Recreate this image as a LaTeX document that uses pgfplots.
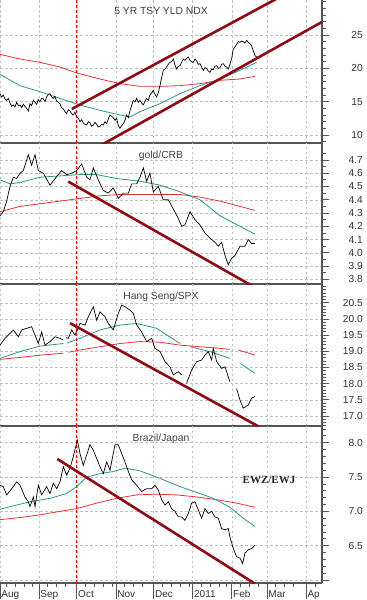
\documentclass[border=0pt]{standalone}
\usepackage{fontspec}
\setmainfont{Liberation Sans}
\newfontfamily\serifb{Liberation Serif}
\usepackage{pgfplots}
\pgfplotsset{compat=1.18}
\usepackage{pgfplotstable}

\definecolor{trend}{RGB}{140,12,20}
\definecolor{tealma}{RGB}{45,150,135}
\definecolor{redma}{RGB}{232,50,55}
\definecolor{axgray}{RGB}{85,85,85}

\pgfplotsset{
 panel/.style={
  scale only axis, width=322bp,
  xmin=0, xmax=255.6,
  axis x line*=bottom, axis y line*=right,
  axis line style={axgray, line width=1.2bp},
  xtick={0,31,61,92,122,153,184,212,243},
  xticklabels={},
  xtick style={draw=none},
  grid=major,
  major grid style={black!25, dash pattern=on 2.5bp off 2.5bp, line width=0.5bp},
  ytick pos=right, yticklabel pos=right,
  tick align=outside,
  ytick style={draw=axgray, line width=0.8bp},
  major tick length=7bp, minor tick length=3.5bp,
  yticklabel style={anchor=east, inner xsep=0pt, xshift=34bp, font=\fontsize{10.2bp}{12bp}\selectfont, text=black!80},
  /pgf/number format/assume math mode=true,
  extra x ticks={61}, extra x tick labels={},
  extra x tick style={grid=major, major grid style={red, dash pattern=on 3bp off 2bp, line width=0.8bp}, xtick style={draw=none}},
  title style={at={(0.5,1)}, anchor=north, yshift=-10bp, font=\fontsize{10.3bp}{12bp}\selectfont, text=black!75},
  unbounded coords=jump,
  clip=true,
 },
 price/.style={black, line width=0.7bp, no marks},
 mateal/.style={tealma, line width=0.8bp, no marks},
 mared/.style={redma, line width=0.8bp, no marks},
 trendl/.style={trend, line width=2.6bp, no marks},
}

\begin{document}
\begin{tikzpicture}
\path[use as bounding box] (0bp,0bp) rectangle (367bp,-600bp);

% ---------------- Panel 1 ----------------
\begin{axis}[panel, at={(0bp,0bp)}, anchor=north west, height=143bp,
  ymin=8.8, ymax=30.25, title={5 YR TSY YLD NDX},
  ytick={10,15,20,25}, yticklabels={10,15,20,25},
  minor ytick={9,11,12,13,14,16,17,18,19,21,22,23,24,26,27,28,29,30}]
\addplot[mared] table {
0 22.1
15.9 21.4
31.7 20.9
47.6 20.2
60.8 19.3
79.4 18.4
95.2 17.7
111.1 17.3
127.0 17.3
142.9 17.4
158.7 17.7
174.6 18.2
190.5 18.4
202.4 18.8
};
\addplot[mateal] table {
0 19.1
15.9 17.4
31.7 16.5
47.6 15.5
63.5 14.5
79.4 13.7
95.2 13.0
103.2 12.7
111.1 13.5
127.0 14.7
142.9 16.2
158.7 17.4
174.6 18.4
190.5 19.7
203.7 20.9
};
\addplot[price] table {
0 16.2
1.3 15.7
2.6 16.0
4.0 15.4
5.3 15.2
6.6 15.5
7.9 14.8
9.3 14.3
10.6 14.5
11.9 14.2
13.2 14.9
14.6 14.4
15.9 14.5
17.2 14.1
18.5 14.6
19.8 14.3
21.2 14.0
22.5 13.6
23.8 14.7
25.1 14.4
26.5 15.2
27.8 14.9
29.1 14.6
30.4 15.3
31.7 15.0
33.1 15.5
34.4 15.4
35.7 15.0
37.0 15.7
38.4 16.1
39.7 16.2
41.0 15.7
42.3 15.5
43.6 15.8
44.9 15.1
46.3 14.9
47.6 14.7
48.9 14.1
50.3 13.9
51.6 13.5
52.9 13.2
54.2 13.8
55.6 13.6
56.9 13.2
58.2 13.0
59.5 13.4
60.8 12.8
62.2 12.5
63.5 12.0
64.8 12.3
66.1 11.8
67.4 11.6
68.8 11.5
70.1 12.0
71.4 11.8
72.8 11.3
74.1 11.5
75.4 11.9
76.7 11.6
78.0 11.2
79.4 11.3
80.7 11.6
82.0 11.5
83.3 12.0
84.7 11.7
86.0 12.4
87.3 13.0
88.6 12.8
89.9 12.6
91.3 12.2
92.6 12.5
93.9 11.4
95.2 11.0
96.6 11.4
97.9 11.7
99.2 12.2
100.5 13.0
101.9 12.6
103.2 13.7
104.5 14.4
105.8 15.2
107.2 15.0
108.5 15.5
109.8 14.9
111.1 15.2
112.4 14.8
113.8 14.5
115.1 15.1
116.4 15.5
117.7 15.2
119.0 16.0
120.4 16.3
121.7 16.7
123.0 16.1
124.3 15.7
125.7 16.4
127.0 17.4
128.3 18.6
129.6 19.7
131.0 19.9
132.3 20.2
133.6 20.6
134.9 20.9
136.2 21.0
137.6 21.4
138.9 20.5
140.2 19.9
141.5 20.3
142.9 20.4
144.2 20.9
145.5 21.4
146.8 21.2
148.2 21.5
149.5 21.7
150.8 21.2
152.1 21.0
153.4 20.9
154.8 21.4
156.1 21.1
157.4 20.6
158.7 20.7
160.1 20.2
161.4 19.7
162.7 20.1
164.0 20.0
165.3 19.6
166.7 19.4
168.0 19.9
169.3 19.8
170.6 20.3
172.0 20.4
173.3 20.0
174.6 20.1
175.9 20.6
177.2 20.7
178.6 20.3
179.9 20.2
181.2 19.9
182.5 20.6
183.9 21.5
185.2 22.9
186.5 23.2
187.8 23.6
189.2 24.0
190.5 23.9
191.8 24.1
193.1 24.0
194.4 23.8
195.8 24.2
197.1 23.9
198.4 23.7
199.7 23.4
201.1 22.6
202.4 21.9
203.7 21.7
};
\addplot[trendl] coordinates {(57,13.9) (230,31.5)};
\addplot[trendl] coordinates {(80,8.45) (256,27.0)};
\end{axis}

% ---------------- Panel 2 ----------------
\begin{axis}[panel, at={(0bp,-143bp)}, anchor=north west, height=141bp,
  ymin=3.765, ymax=4.828, title={gold/CRB},
  ytick={3.8,3.9,4.0,4.1,4.2,4.3,4.4,4.5,4.6,4.7},
  yticklabels={3.8,3.9,4.0,4.1,4.2,4.3,4.4,4.5,4.6,4.7},
  minor ytick={3.85,3.95,4.05,4.15,4.25,4.35,4.45,4.55,4.65,4.75}]
\addplot[mared] table {
0 4.31
15.9 4.35
31.7 4.37
47.6 4.39
63.5 4.41
79.4 4.43
95.2 4.44
111.1 4.44
127.0 4.44
142.9 4.44
158.7 4.42
174.6 4.39
190.5 4.35
202.4 4.32
};
\addplot[mateal] table {
0 4.55
7.9 4.52
15.9 4.53
31.7 4.57
47.6 4.58
63.5 4.59
76.7 4.59
92.6 4.56
111.1 4.54
127.0 4.51
142.9 4.46
158.7 4.40
174.6 4.28
190.5 4.20
202.4 4.14
};
\addplot[price] table {
0 4.28
2.6 4.31
5.3 4.39
7.9 4.50
10.6 4.57
13.2 4.56
15.9 4.60
18.5 4.62
22.5 4.74
25.1 4.66
27.8 4.74
30.4 4.62
34.4 4.60
39.7 4.51
43.7 4.56
48.9 4.62
52.9 4.59
56.9 4.60
60.8 4.62
64.8 4.67
68.8 4.57
71.4 4.55
74.1 4.64
78.0 4.55
82.0 4.47
86.0 4.45
89.9 4.49
93.9 4.41
97.9 4.45
101.9 4.45
104.5 4.52
108.5 4.52
111.1 4.57
113.8 4.64
116.4 4.54
119.0 4.60
121.7 4.46
125.7 4.50
129.6 4.40
133.6 4.40
137.6 4.33
141.5 4.26
144.2 4.20
146.8 4.21
150.8 4.31
154.8 4.25
158.7 4.21
162.7 4.15
166.7 4.11
170.6 4.08
173.3 4.05
175.9 4.08
178.6 3.98
181.2 3.91
183.9 3.96
186.5 3.98
190.5 4.05
194.4 4.05
197.1 4.10
199.7 4.07
202.4 4.07
};
\addplot[trendl] coordinates {(54.2,4.537) (200,3.752)};
\end{axis}

% ---------------- Panel 3 ----------------
\begin{axis}[panel, at={(0bp,-284bp)}, anchor=north west, height=142bp,
  ymin=16.69, ymax=21.08, title={Hang Seng/SPX},
  ytick={17.0,17.5,18.0,18.5,19.0,19.5,20.0,20.5},
  yticklabels={17.0,17.5,18.0,18.5,19.0,19.5,20.0,20.5},
  minor ytick={16.7,16.8,16.9,17.1,17.2,17.3,17.4,17.6,17.7,17.8,17.9,18.1,18.2,18.3,18.4,18.6,18.7,18.8,18.9,19.1,19.2,19.3,19.4,19.6,19.7,19.8,19.9,20.1,20.2,20.3,20.4,20.6,20.7,20.8,20.9,21.0}]
\addplot[mared] table {
0 18.75
15.9 18.81
31.7 18.88
50.3 18.94
51.5 nan
54.2 18.97
63.5 19.04
79.4 19.14
95.2 19.24
111.1 19.30
127.0 19.28
142.9 19.19
158.7 19.14
174.6 19.09
182.5 19.06
185.0 nan
189.2 19.04
202.4 18.88
};
\addplot[mateal] table {
0 18.78
15.9 18.99
31.7 19.16
50.3 19.24
51.5 nan
52.9 19.25
63.5 19.40
79.4 19.66
95.2 19.81
108.5 19.86
124.3 19.71
142.9 19.24
146.0 nan
150.8 19.14
166.7 18.99
182.5 18.78
185.0 nan
190.5 18.63
202.4 18.32
};
\addplot[price] table {
0 19.19
4.0 19.40
7.9 19.55
10.6 19.66
14.6 19.45
17.2 19.66
21.2 19.71
25.1 19.76
27.8 19.50
30.4 19.24
33.1 19.60
35.7 19.19
39.7 19.30
43.7 19.45
47.6 19.40
50.0 19.35
51.5 nan
52.6 19.42
54.2 19.40
56.9 19.66
59.5 19.50
63.5 19.86
67.5 19.81
70.1 20.07
74.1 20.38
76.7 19.96
79.4 20.22
83.3 20.07
86.0 19.86
89.9 19.66
93.9 20.17
96.6 20.43
99.2 20.38
103.2 20.27
105.8 20.17
108.5 19.81
112.4 19.60
116.4 19.30
120.4 19.40
123.0 19.09
127.0 18.99
131.0 18.68
134.9 18.52
137.6 18.27
141.5 18.37
144.2 18.27
146.0 nan
148.1 18.01
152.1 18.42
156.1 18.68
160.1 18.73
162.7 18.88
165.3 18.99
168.0 18.73
169.3 19.09
172.0 18.68
175.9 18.47
178.6 18.52
182.5 18.06
185.0 nan
187.8 17.85
190.5 17.49
193.1 17.24
197.1 17.34
199.7 17.55
202.4 17.60
};
\addplot[trendl] coordinates {(55.6,19.87) (205,16.68)};
\end{axis}

% ---------------- Panel 4 ----------------
\begin{axis}[panel, at={(0bp,-426bp)}, anchor=north west, height=157bp,
  ymin=5.957, ymax=8.243, title={Brazil/Japan},
  ytick={6.0,6.5,7.0,7.5,8.0},
  yticklabels={,6.5,7.0,7.5,8.0},
  minor ytick={6.1,6.2,6.3,6.4,6.6,6.7,6.8,6.9,7.1,7.2,7.3,7.4,7.6,7.7,7.8,7.9,8.1,8.2},
  xticklabels={Aug,Sep,Oct,Nov,Dec,2011,Feb,Mar,Ap},
  xtick style={draw=axgray, line width=0.8bp, /pgfplots/major tick length=16bp, /pgfplots/minor tick length=4bp},
  minor xtick={5,12,19,26,38,45,52,68,75,82,89,99,106,113,129,136,143,150,160,167,174,180,191,198,205,219,226,233,250},
  xtick pos=bottom,
  xticklabel style={anchor=north west, inner sep=0pt, xshift=1.2bp, font=\fontsize{10bp}{12bp}\selectfont, text=black!80}]
\addplot[mared] table {
0 6.88
15.9 6.91
31.7 6.95
47.6 7.00
60.8 7.04
76.7 7.12
92.6 7.19
108.5 7.24
124.3 7.25
140.2 7.24
156.1 7.21
172.0 7.17
187.8 7.12
202.4 7.06
};
\addplot[mateal] table {
0 7.03
10.6 7.08
23.8 7.14
39.7 7.19
52.9 7.26
60.8 7.36
68.8 7.50
79.4 7.55
89.9 7.58
99.2 7.63
111.1 7.59
127.0 7.48
142.9 7.36
158.7 7.26
169.3 7.19
182.5 7.06
193.1 6.90
202.4 6.78
};
\addplot[price] table {
0 7.38
2.6 7.36
5.3 7.24
9.3 7.33
13.2 7.43
15.9 7.38
19.8 7.21
22.5 7.14
23.8 7.07
26.5 7.21
27.8 7.07
30.4 7.38
33.1 7.24
37.0 7.36
39.7 7.26
42.3 7.41
45.0 7.33
47.6 7.43
50.3 7.65
52.9 7.53
55.6 7.63
58.2 7.80
61.4 8.04
63.5 7.84
66.1 7.67
68.8 7.82
71.4 7.97
74.1 7.89
76.7 7.77
79.4 7.65
82.0 7.55
84.7 7.72
87.3 7.60
91.3 7.97
93.9 7.97
96.6 7.84
99.2 7.72
101.9 7.58
104.5 7.46
108.5 7.38
112.4 7.29
116.4 7.33
120.4 7.33
123.0 7.38
125.7 7.31
128.3 7.17
131.0 7.09
133.6 7.14
136.2 7.04
138.9 7.00
141.5 6.92
144.2 6.92
146.8 6.87
149.5 6.97
152.1 7.12
154.8 7.14
157.4 7.02
160.1 6.90
162.7 7.04
165.3 6.97
168.0 7.00
170.6 6.92
173.3 6.90
175.9 6.75
178.6 6.73
181.2 6.75
182.5 6.63
185.2 6.46
187.8 6.34
190.5 6.32
192.6 6.24
194.4 6.39
197.1 6.44
199.7 6.46
202.4 6.51
};
\addplot[trendl] coordinates {(45.5,7.763) (202,5.951)};
\node[font=\serifb\bfseries\fontsize{11bp}{13bp}\selectfont, text=black!85] at (axis cs:213.5,7.46) {EWZ/EWJ};
\end{axis}
\end{tikzpicture}
\end{document}
